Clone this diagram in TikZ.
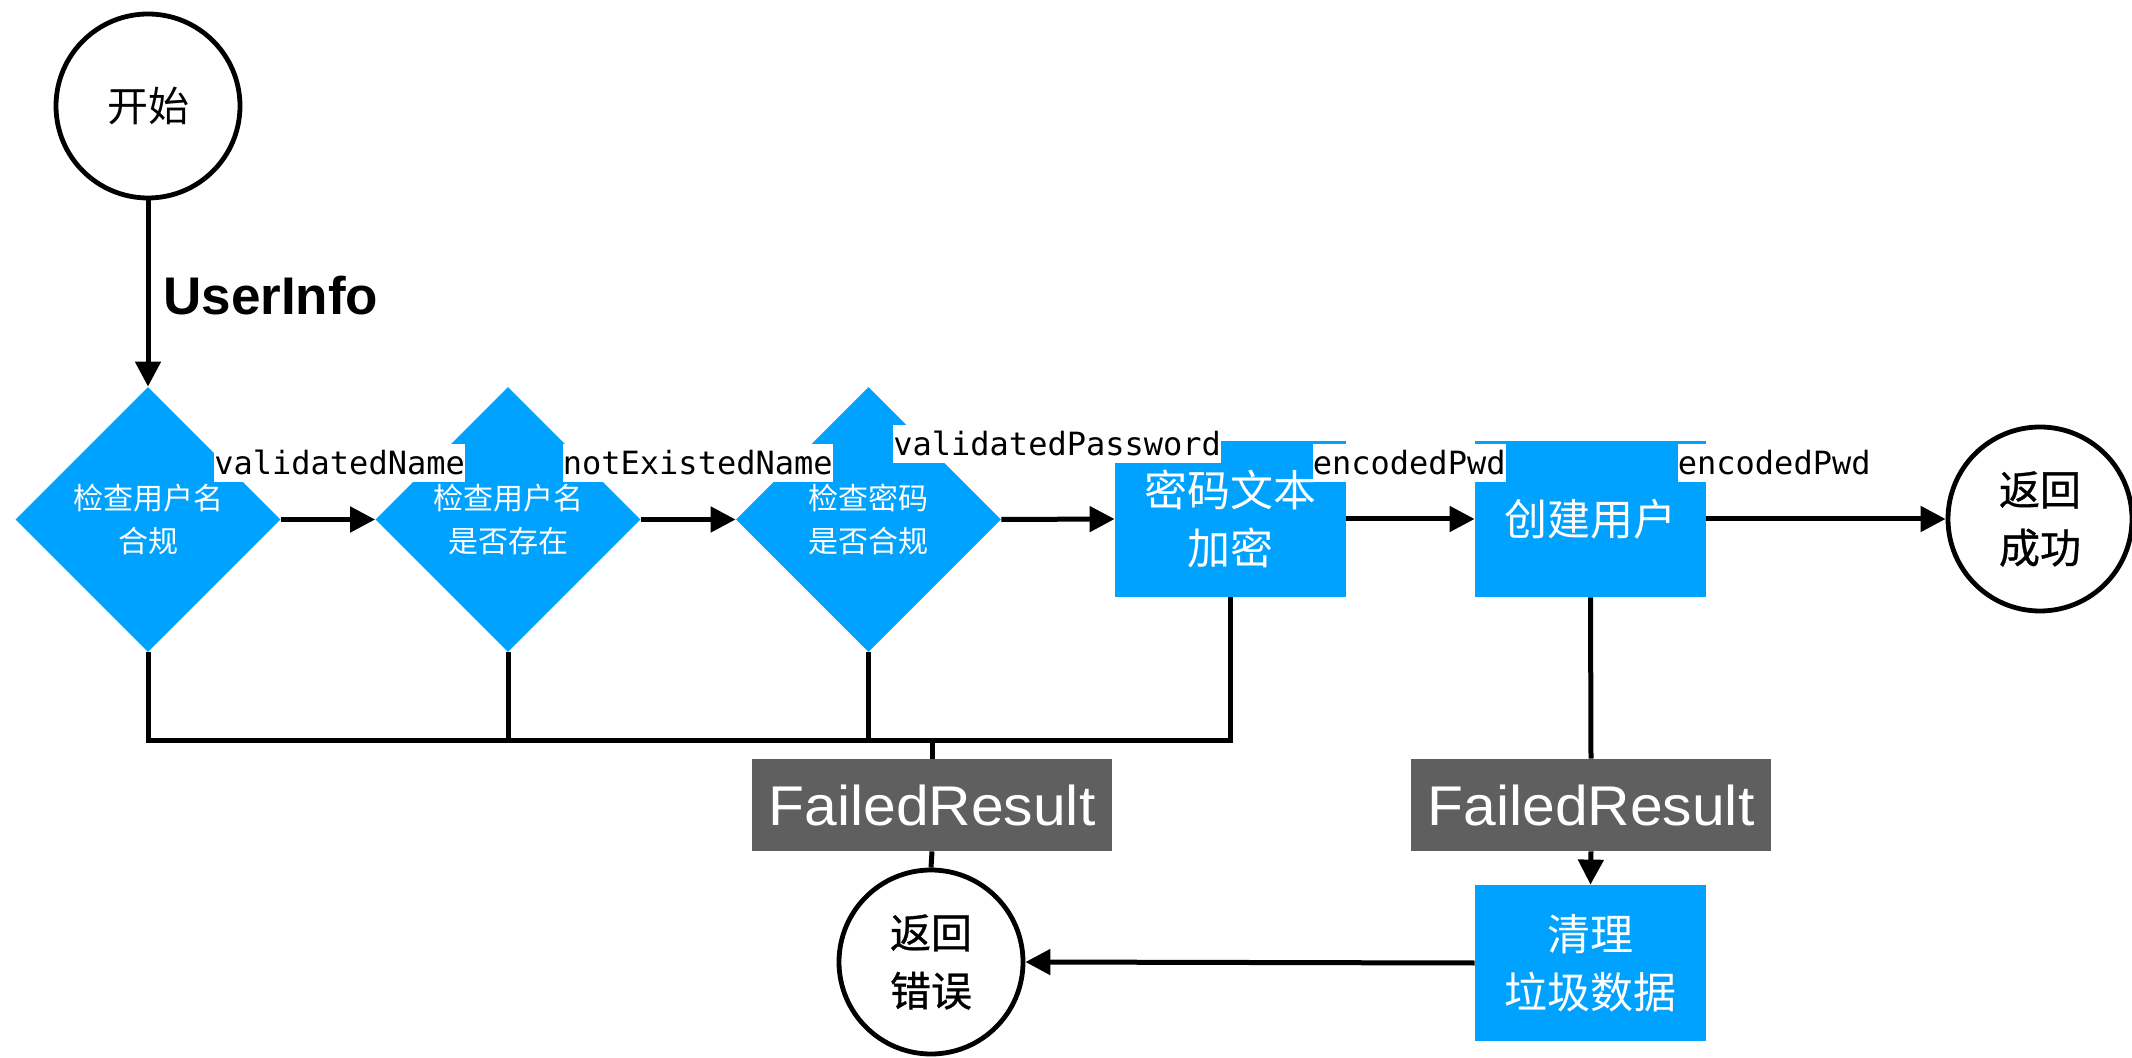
\documentclass[tikz,border=0pt]{standalone}
\usepackage{fontspec}
\usetikzlibrary{shapes.geometric,arrows.meta}
\newfontfamily\cjk{Noto Sans CJK SC}
\newfontfamily\cjkheavy[FakeBold=0.8]{Noto Sans CJK SC}
\newfontfamily\monofont{DejaVu Sans Mono}
\newfontfamily\labelsans{Liberation Sans}
\newfontfamily\failfont[FakeStretch=1.05]{Liberation Sans}
\definecolor{flowblue}{HTML}{00A2FF}
\definecolor{failgray}{HTML}{5F5F5F}

\begin{document}
\begin{tikzpicture}[x=0.5pt,y=-0.5pt,
  startend/.style={circle,draw,line width=2.4pt,minimum size=92pt,inner sep=0pt,
    align=center,font=\cjk\fontsize{20.5pt}{29pt}\selectfont},
  finish/.style={startend,font=\cjkheavy\fontsize{20.5pt}{29pt}\selectfont},
  check/.style={diamond,fill=flowblue,minimum width=132.5pt,minimum height=132.5pt,
    inner sep=0pt,text=white,align=center,font=\cjk\fontsize{15pt}{21.5pt}\selectfont},
  task/.style={rectangle,fill=flowblue,minimum width=115.5pt,minimum height=78pt,
    inner sep=0pt,text=white,align=center,font=\cjk\fontsize{21.5pt}{29pt}\selectfont},
  fail/.style={rectangle,fill=failgray,minimum width=180pt,minimum height=46pt,
    inner sep=0pt,text=white,font=\failfont\fontsize{28pt}{32pt}\selectfont},
  flow/.style={line width=2.5pt,-{Triangle[length=12.5pt,width=12.5pt]}},
  link/.style={line width=2.5pt},
  data/.style={fill=white,inner xsep=0pt,inner ysep=0pt,text height=15.5pt,
    text depth=3.5pt,anchor=west,font=\monofont\fontsize{16pt}{19pt}\selectfont},
]
\useasboundingbox (0,0) rectangle (2132,1058);

% start / end points
\node[startend] (start) at (148,106) {开始};
\node[finish] (ok)    at (2040,519) {返回\\成功};
\node[finish] (err)   at (931,962) {返回\\错误};

% checks
\node[check] (d1) at (148,519.5) {检查用户名\\合规};
\node[check] (d2) at (508,519.5) {检查用户名\\是否存在};
\node[check] (d3) at (868.5,519.5) {检查密码\\是否合规};

% processing steps
\node[task] (enc)    at (1230.5,519) {密码文本\\加密};
\node[task] (create) at (1590.5,519) {创建用户};
\node[task] (clean)  at (1590.5,963) {清理\\垃圾数据};

% failure results
\node[fail] (fail1) at (932,805) {FailedResult};
\node[fail] (fail2) at (1591,805) {FailedResult};

% main flow
\draw[flow] (start) -- (d1.north);
\node[anchor=base west,inner sep=0pt,font=\labelsans\bfseries\fontsize{26.5pt}{30pt}\selectfont]
  (info) at (163,315) {UserInfo};
\draw[flow] (d1.east) -- (d2.west);
\draw[flow] (d2.east) -- (d3.west);
\draw[flow] (d3.east) -- (enc.west);
\draw[flow] (enc.east) -- (create.west);
\draw[flow] (create.east) -- (ok.west);

% collected failure paths
\coordinate (bus) at (0,741);
\draw[link] (d1.south) |- (enc.south |- bus) -- (enc.south);
\draw[link] (d2.south) -- (d2.south |- bus);
\draw[link] (d3.south) -- (d3.south |- bus);
\draw[link] (fail1.north |- bus) -- (fail1.north);
\draw[link] (fail1.south) -- (err.north);

\draw[link] (create.south) -- (fail2.north);
\draw[flow] (fail2.south) -- (clean.north);
\draw[flow] (clean.west) -- (err.east);

% data passed along the flow
\node[data] (n1) at (214,463) {validatedName};
\node[data] (n2) at (562.5,463) {notExistedName};
\node[data] (n3) at (893,444) {validatedPassword};
\node[data] (n4) at (1312.5,463) {encodedPwd};
\node[data] (n5) at (1677.5,463) {encodedPwd};
\end{tikzpicture}
\end{document}
